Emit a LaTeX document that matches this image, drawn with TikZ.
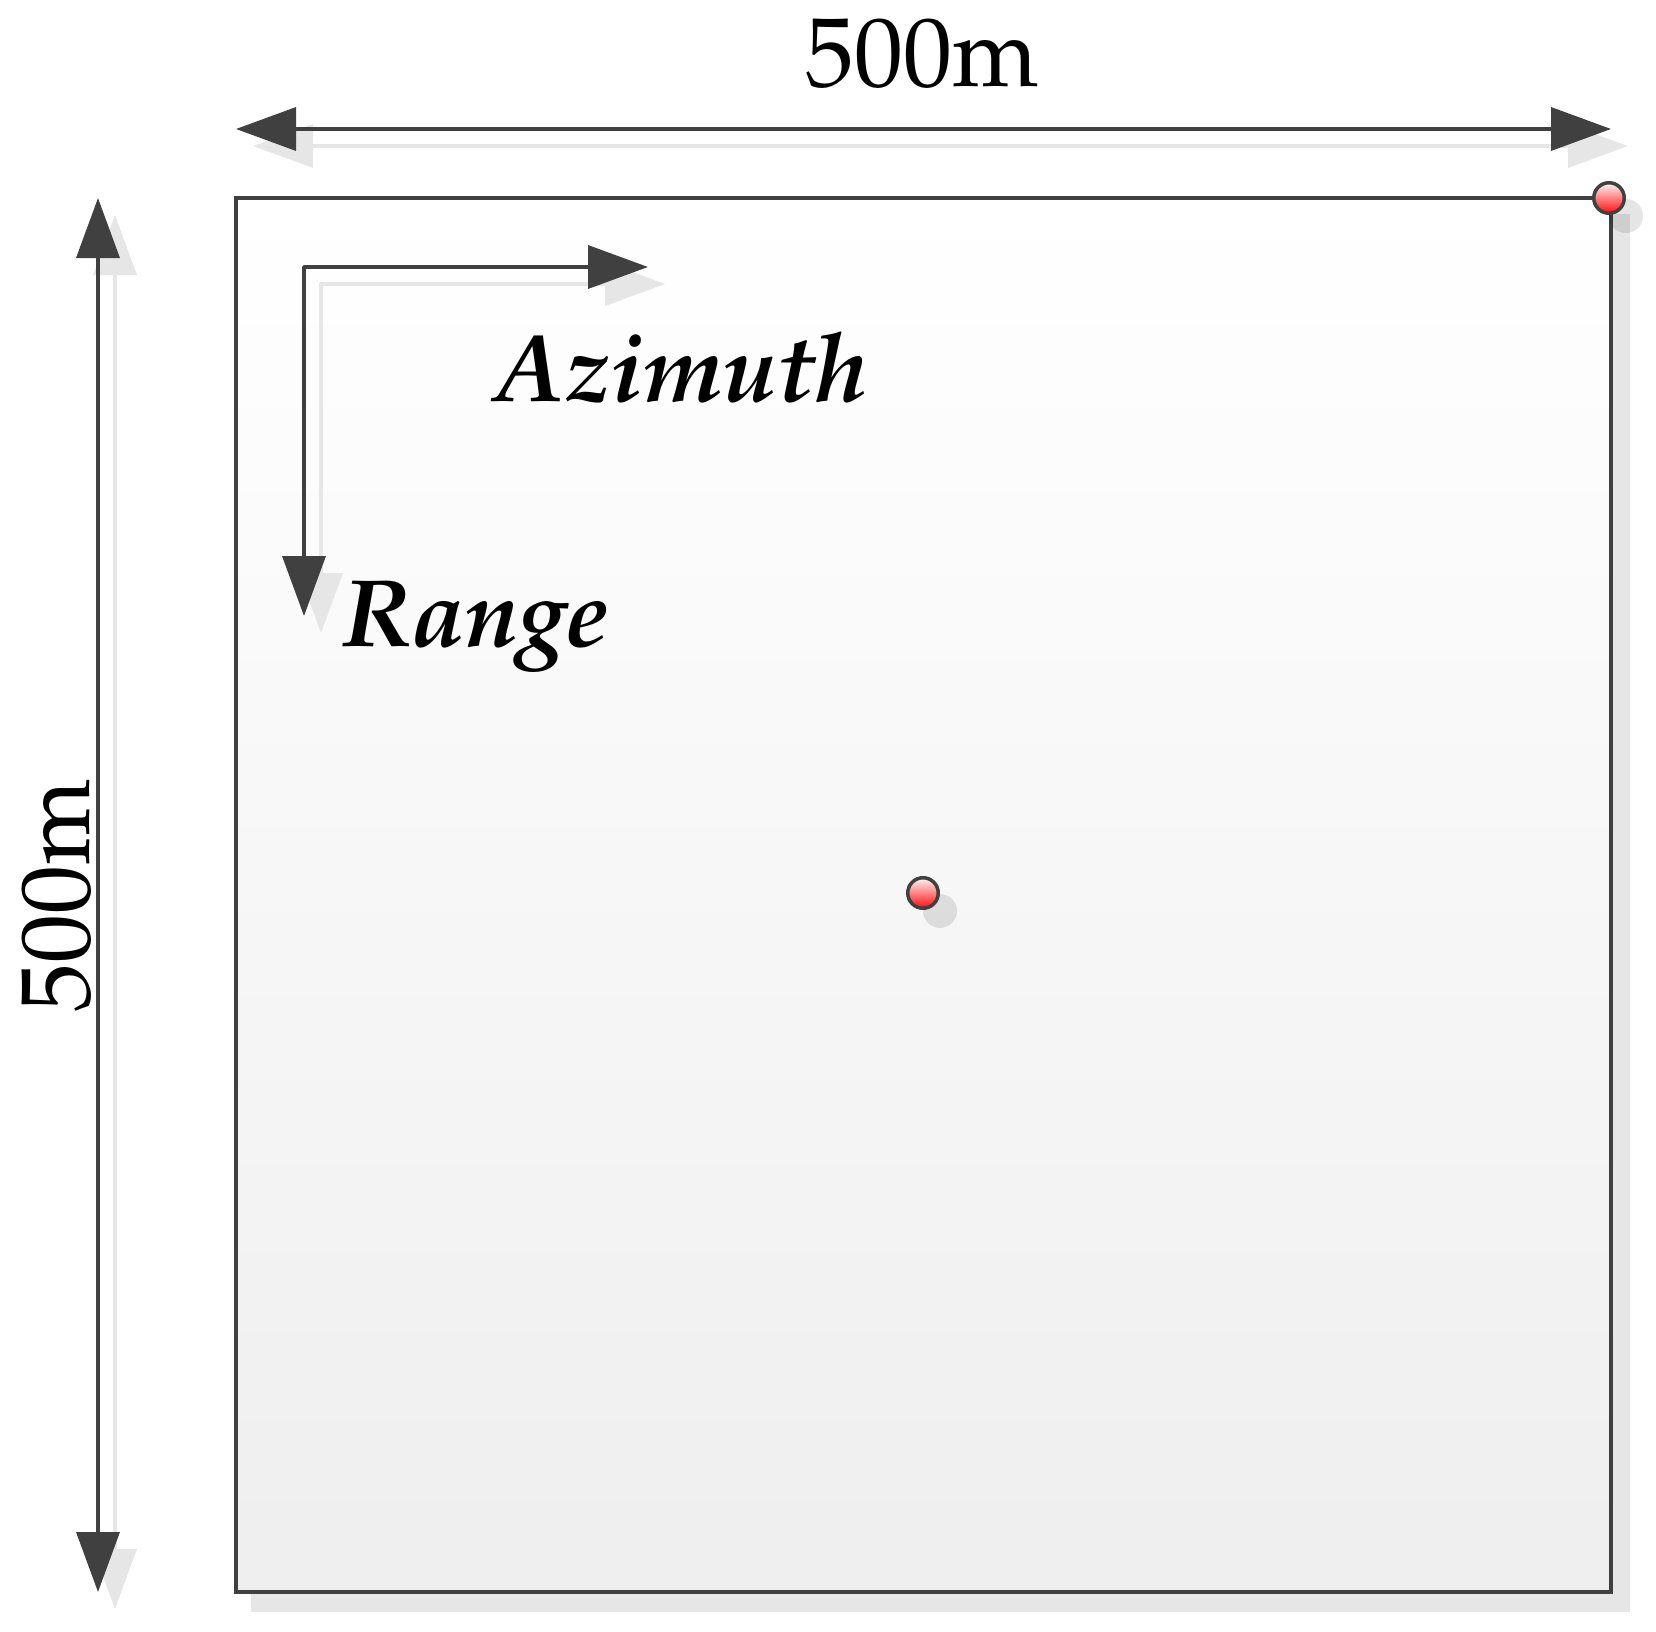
\documentclass[tikz,border=0pt]{standalone}
\usepackage[T1]{fontenc}
\usepackage{mathpazo}
\usetikzlibrary{arrows.meta,calc}
\definecolor{ink}{HTML}{404040}
\definecolor{shadowgray}{HTML}{E6E6E6}
\tikzset{
  tip/.tip={Triangle[length=30pt,width=21.5pt]},
  dimline/.style={draw=ink, line width=1.75pt, tip-tip},
  dimshadow/.style={draw=shadowgray, line width=1.75pt, tip-tip},
  axisline/.style={draw=ink, line width=1.75pt, line join=round, tip-tip},
  axisshadow/.style={draw=shadowgray, line width=1.75pt, line join=round, tip-tip},
  areabox/.style={draw=ink, line width=1.75pt, top color=white, bottom color=black!6.5},
  dot/.style={circle, draw=ink, line width=1.75pt, minimum size=15.25pt, inner sep=0pt, top color=red!4, bottom color=red!95},
  dotshadow/.style={fill=black, fill opacity=0.1},
  dimlabel/.style={font=\fontsize{49}{49}\selectfont, inner sep=0pt, anchor=base},
  axislabel/.style={font=\fontsize{48}{48}\selectfont\bfseries\itshape, inner sep=0pt, anchor=base west},
  castshadow/.style={transform canvas={shift={(17,17)}}}
}
\begin{document}
\begin{tikzpicture}[x=0.5pt,y=-0.5pt]
\useasboundingbox (0,0) rectangle (1656,1632);
% key points
\coordinate (TL) at (236,198);
\coordinate (TR) at (1611,198);
\coordinate (BR) at (1611,1592);
\coordinate (BL) at (236,1592);
\coordinate (wL) at (236,129);
\coordinate (wR) at (1611,129);
\coordinate (hT) at (98,198);
\coordinate (hB) at (98,1592);
\coordinate (corner) at (304,267);
\coordinate (azend) at (648,267);
\coordinate (rgend) at (304,616);
\coordinate (p1) at (1609,198);
\coordinate (p2) at (923,893);
% shadows of outer dimension lines
\draw[dimshadow, castshadow] (wL) -- (wR);
\draw[dimshadow, castshadow] (hT) -- (hB);
\draw[dimline] (wL) -- (wR);
\draw[dimline] (hT) -- (hB);
% area shadow and area
\fill[shadowgray] ($(TL)+(15,16)$) rectangle ($(BR)+(19,20)$);
\path[areabox] (TL) rectangle (BR);
% axis arrows
\draw[axisshadow, castshadow] (azend) -- (corner) -- (rgend);
\draw[axisline] (azend) -- (corner) -- (rgend);
% labels
\node[dimlabel] (wlab) at (922.5,86.6) {500m};
\node[dimlabel, rotate=90] (hlab) at (89.8,896) {500m};
\node[axislabel] (az) at (494,401) {Azimuth};
\node[axislabel] (rg) at (342,646) {Range};
% points
\fill[dotshadow] ($(p1)+(17,18)$) circle (8.5pt);
\fill[dotshadow] ($(p2)+(17,18)$) circle (8.5pt);
\node[dot] (pt1) at (p1) {};
\node[dot] (pt2) at (p2) {};
\end{tikzpicture}
\end{document}
